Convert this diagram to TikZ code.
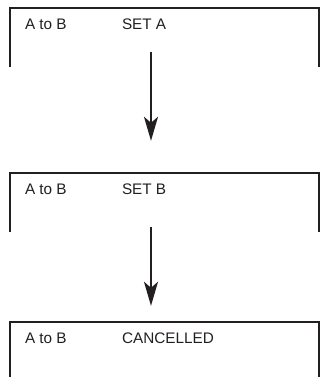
\documentclass[tikz,border=0pt]{standalone}
\usepackage{fontspec}
\setmainfont{Liberation Sans}
\usetikzlibrary{arrows.meta,positioning}
\definecolor{inkgray}{HTML}{231F20}

\begin{document}
\begin{tikzpicture}[
  x=1pt, y=1pt,
  panel/.style={rectangle, inner sep=0pt, minimum width=309pt, minimum height=59pt},
  rim/.style={draw=inkgray, line width=1.8pt},
  tag/.style={inner sep=0pt, anchor=base west, text=inkgray, font=\fontsize{15.3}{18}\selectfont},
  flow/.style={-{Stealth[length=24pt, width=14pt, inset=6pt]}, draw=inkgray, fill=inkgray, line width=2pt}
]
\useasboundingbox (0,0) rectangle (321,377);

\node[panel] (setA) at (164.5,339.5) {};
\node[panel] (setB) at (164.5,174.5) {};
\node[panel] (cancel) at (164.5,25.5) {};

\node[tag] (setAfrom) at ([xshift=15pt,yshift=-22pt]setA.north west) {A to B};
\node[tag] (setAstate) at ([xshift=112pt,yshift=-22pt]setA.north west) {SET A};
\node[tag] (setBfrom) at ([xshift=15pt,yshift=-22pt]setB.north west) {A to B};
\node[tag] (setBstate) at ([xshift=112pt,yshift=-22pt]setB.north west) {SET B};
\node[tag] (cancelfrom) at ([xshift=15pt,yshift=-22pt]cancel.north west) {A to B};
\node[tag] (cancelstate) at ([xshift=112pt,yshift=-22pt]cancel.north west) {CANCELLED};

% open-bottom frames
\draw[rim] (setA.south west) |- (setA.north east) -- (setA.south east);
\draw[rim] (setB.south west) |- (setB.north east) -- (setB.south east);
\draw[rim] (cancel.south west) |- (cancel.north east) -- (cancel.south east);

\draw[flow] ([xshift=-13.5pt,yshift=15pt]setA.south) -- ([xshift=-13.5pt,yshift=32pt]setB.north);
\draw[flow] ([xshift=-13.5pt,yshift=5pt]setB.south) -- ([xshift=-13.5pt,yshift=16pt]cancel.north);
\end{tikzpicture}
\end{document}
